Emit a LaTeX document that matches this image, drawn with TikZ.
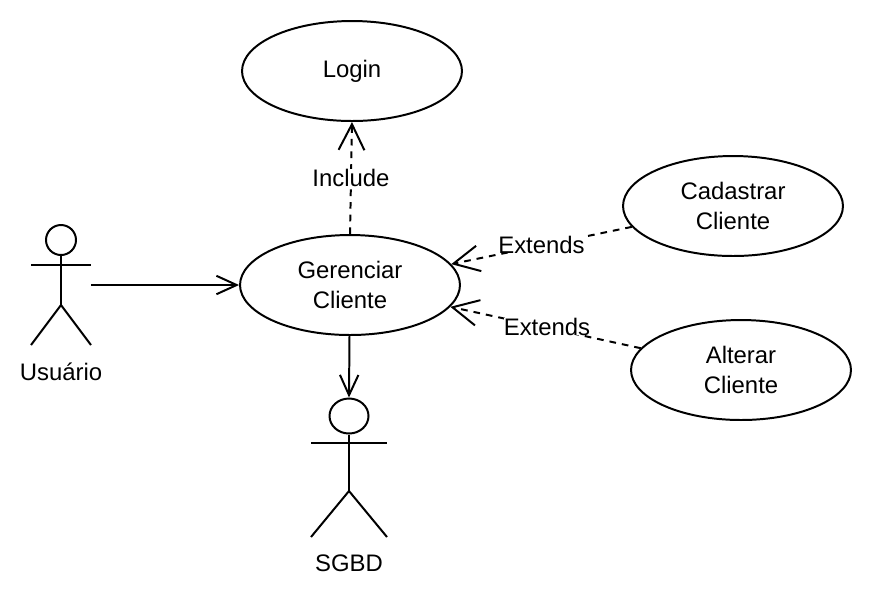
\documentclass[tikz,border=0pt]{standalone}
\usepackage{fontspec}
\setmainfont{Liberation Sans}
\usetikzlibrary{calc}
\usetikzlibrary{arrows.meta}
\usetikzlibrary{shapes.geometric}
\begin{document}
\begin{tikzpicture}[x=0.02cm,y=-0.02cm]

\tikzset{
    texte/.style = {
    font=\fontsize{13.6}{16.7}\selectfont,
    align=center,
    inner sep=0pt
    }
}

\tikzstyle{trait}=[line width=1.13pt]
\tikzstyle{casuso}=[draw, trait, ellipse, texte, minimum width=4.4cm, minimum height=2cm]
\tikzstyle{tete}=[draw, trait, ellipse, inner sep=0pt]
\tikzstyle{lien}=[trait, -{Straight Barb[length=11.5pt, width=10.5pt]}]
\tikzstyle{relation}=[trait, dash pattern=on 3.8pt off 3.4pt, -{Straight Barb[length=14.7pt, width=14.7pt]}]
\tikzstyle{etiquette}=[texte, fill=white]

\useasboundingbox (0,0) rectangle (874,600);

\node (login) [casuso] at (352,71) {Login};
\node (gerenciar) [casuso] at (350,285) {Gerenciar\\Cliente};
\node (cadastrar) [casuso] at (733,206) {Cadastrar\\Cliente};
\node (alterar) [casuso] at (741,370) {Alterar\\Cliente};

% Usuario
\node (usuario-head) [tete, minimum width=0.6cm, minimum height=0.6cm] at (61,240) {};
\coordinate (usuario-hip) at (61,305);
\coordinate (usuario-hand) at (91,285);
\draw [trait] (usuario-head) -- (usuario-hip);
\draw [trait] (31,265) -- (91,265);
\draw [trait] (31,345) -- (usuario-hip) -- (91,345);
\node (usuario) [texte] at (61,372) {Usuário};

% SGBD
\node (sgbd-head) [tete, minimum width=0.78cm, minimum height=0.7cm] at (349,416) {};
\coordinate (sgbd-hip) at (349,491);
\coordinate (gerenciar-bottom) at (349.5,335);
\draw [trait] (sgbd-head) -- (sgbd-hip);
\draw [trait] (311,443) -- (387,443);
\draw [trait] (311,537) -- (sgbd-hip) -- (387,537);
\node (sgbd) [texte] at (349,563) {SGBD};

\draw [lien] (usuario-hand) -- (gerenciar.west);
\draw [lien] (gerenciar-bottom) -- (sgbd-head.north);
\draw [relation] (gerenciar.north) -- node[etiquette, pos=0.5] {Include} (login.south);
\draw [relation] (cadastrar) -- node[etiquette, pos=0.5, yshift=0.02cm] {Extends} (gerenciar);
\draw [relation] (alterar) -- node[etiquette, pos=0.5, xshift=0.03cm, yshift=0.02cm] {Extends} (gerenciar);

\end{tikzpicture}
\end{document}
